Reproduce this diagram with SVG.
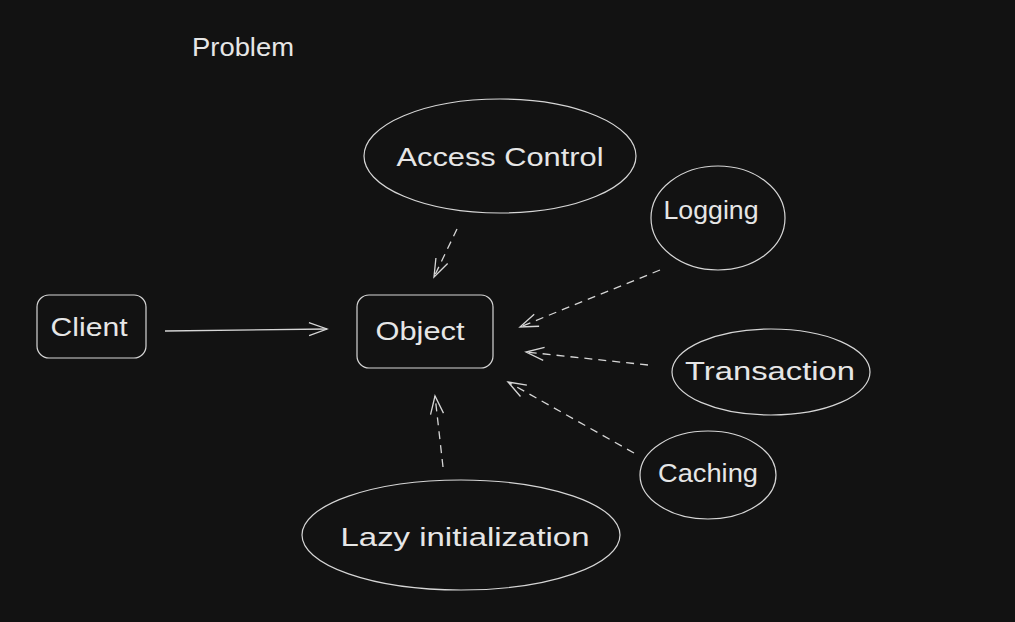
<svg xmlns="http://www.w3.org/2000/svg" width="1015" height="622" viewBox="0 0 1015 622">
<style>
.n{fill:none;stroke:#d6d6d6;stroke-width:1.2}
.t{font-family:"Liberation Sans","DejaVu Sans",sans-serif;font-size:25px;fill:#e6e6e6;text-anchor:middle}
.c{fill:none;stroke:#d6d6d6;stroke-width:1.3}
.d{stroke-dasharray:8 6}
</style>
<defs>
<marker id="ah" viewBox="-20 -10 22 20" refX="0" refY="0" markerWidth="22" markerHeight="20" markerUnits="userSpaceOnUse" orient="auto">
<path d="M-18,-6.5 L0,0 L-18,6.5" fill="none" stroke="#d6d6d6" stroke-width="1.3"/>
</marker>
</defs>
<rect width="1015" height="622" fill="#121212"/>
<g id="title"><text class="t" x="243" y="56" textLength="102" lengthAdjust="spacingAndGlyphs">Problem</text></g>
<g id="client"><rect class="n" x="37" y="295" width="109" height="63" rx="12"/><text class="t" x="89" y="336" textLength="77" lengthAdjust="spacingAndGlyphs">Client</text></g>
<g id="object"><rect class="n" x="357" y="295" width="136" height="73" rx="12"/><text class="t" x="420" y="340" textLength="89" lengthAdjust="spacingAndGlyphs">Object</text></g>
<g id="access"><ellipse class="n" cx="500" cy="156" rx="136" ry="57"/><text class="t" x="500" y="166" textLength="207" lengthAdjust="spacingAndGlyphs">Access Control</text></g>
<g id="logging"><ellipse class="n" cx="718" cy="218" rx="67" ry="52"/><text class="t" x="711" y="219" textLength="95" lengthAdjust="spacingAndGlyphs">Logging</text></g>
<g id="transaction"><ellipse class="n" cx="771" cy="372" rx="99" ry="43"/><text class="t" x="770" y="380" textLength="170" lengthAdjust="spacingAndGlyphs">Transaction</text></g>
<g id="caching"><ellipse class="n" cx="708" cy="475" rx="68" ry="44"/><text class="t" x="708" y="482" textLength="100" lengthAdjust="spacingAndGlyphs">Caching</text></g>
<g id="lazy"><ellipse class="n" cx="461" cy="535" rx="159" ry="55"/><text class="t" x="465" y="546" textLength="249" lengthAdjust="spacingAndGlyphs">Lazy initialization</text></g>
<g id="connectors">
<path class="c" d="M165,331 L327,329" marker-end="url(#ah)"/>
<path class="c d" d="M457,229 L434,277" marker-end="url(#ah)"/>
<path class="c d" d="M660,270 L520,327" marker-end="url(#ah)"/>
<path class="c d" d="M648,365 L526,352" marker-end="url(#ah)"/>
<path class="c d" d="M634,453 L508,382" marker-end="url(#ah)"/>
<path class="c d" d="M443,467 L435,396" marker-end="url(#ah)"/>
</g>
</svg>
